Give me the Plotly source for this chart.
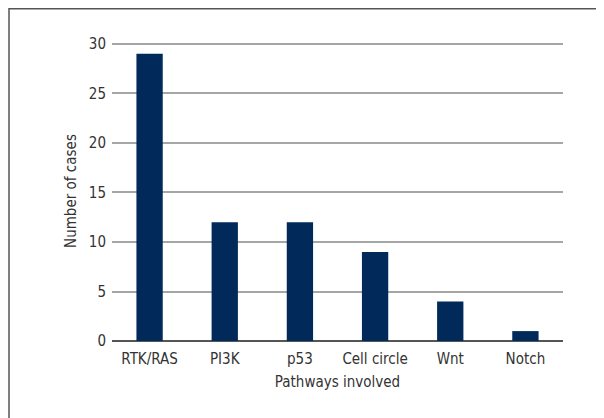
import plotly.graph_objects as go

categories = ["RTK/RAS", "PI3K", "p53", "Cell circle", "Wnt", "Notch"]
cases = [29, 12, 12, 9, 4, 1]
y_ticks = [0, 5, 10, 15, 20, 25, 30]

FONT = "Liberation Sans Narrow, DejaVu Sans Condensed, Arial Narrow, sans-serif"
FS = 15

fig = go.Figure(go.Bar(x=categories, y=cases, marker=dict(color="#012a5b", line=dict(width=0))))

# page body has an 8px margin; figure sized to fit the 604x418 window
W, H = 596, 410
L, R, T, B = 104, 41, 33, 77
pw, ph = W - L - R, H - T - B

fig.update_layout(
    width=W, height=H,
    margin=dict(l=L, r=R, t=T, b=B),
    paper_bgcolor="white", plot_bgcolor="white",
    bargap=0.65,
    font=dict(family=FONT, size=FS, color="#333333"),
    showlegend=False,
    xaxis=dict(
        title=dict(text="Pathways involved", standoff=9, font=dict(size=FS)),
        showgrid=False, showline=False, ticks="", ticklabelstandoff=7,
        tickfont=dict(size=FS),
    ),
    yaxis=dict(
        title=dict(text="Number of cases", standoff=8, font=dict(size=FS)),
        range=[0, 30.3], tickvals=y_ticks, showgrid=True, gridcolor="#a6a6a6", gridwidth=1.5,
        zeroline=True, zerolinecolor="#555555", zerolinewidth=1.5,
        ticks="", ticklabelstandoff=5,
        tickfont=dict(size=FS),
    ),
    shapes=[
        dict(type="rect", xref="paper", yref="paper",
             x0=(1 - L) / pw, x1=(W + 20 - L) / pw,
             y0=(H - B - (H + 20)) / ph, y1=(H - B - 0.75) / ph,
             line=dict(color="#555555", width=1.5), fillcolor="rgba(0,0,0,0)", layer="below"),
    ],
)

fig.write_html("out.html")
